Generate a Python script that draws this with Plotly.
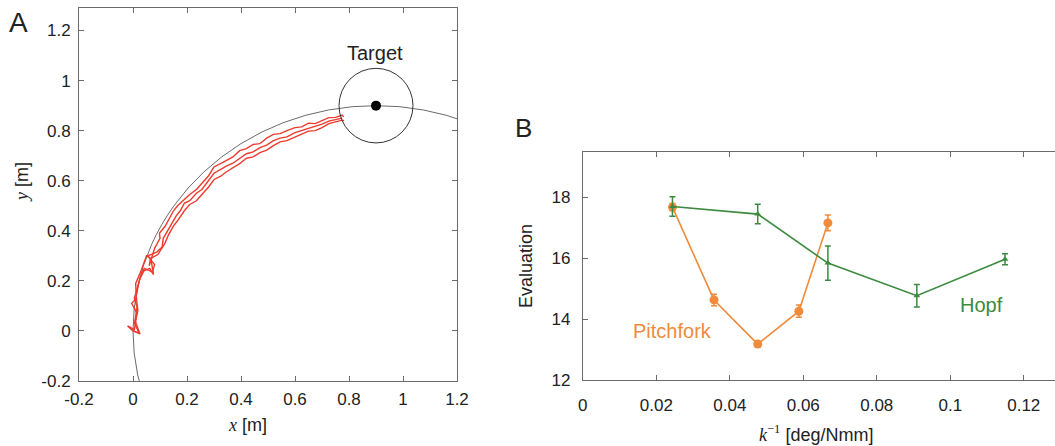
import plotly.graph_objects as go

# ---------------- Panel A data ----------------
traj1_x = [0.000, -0.020, 0.005, 0.015, -0.005, 0.012, 0.010, 0.022, 0.030, 0.050, 0.065, 0.060, 0.080, 0.100, 0.098, 0.120, 0.135, 0.150, 0.165,
           0.190, 0.210, 0.235, 0.255, 0.280, 0.300, 0.325, 0.345, 0.370, 0.395, 0.420, 0.445, 0.470, 0.495, 0.520, 0.545, 0.570, 0.600, 0.625, 0.650, 0.675, 0.700, 0.725, 0.750, 0.775, 0.780]
traj1_y = [0.000, 0.020, 0.005, 0.070, 0.110, 0.130, 0.190, 0.220, 0.240, 0.300, 0.290, 0.260, 0.330, 0.370, 0.390, 0.420, 0.450, 0.480, 0.500,
           0.525, 0.545, 0.565, 0.590, 0.620, 0.655, 0.668, 0.680, 0.695, 0.720, 0.728, 0.745, 0.748, 0.770, 0.785, 0.788, 0.800, 0.812, 0.815, 0.830, 0.828, 0.840, 0.852, 0.853, 0.862, 0.855]
traj2_x = [0.000, 0.022, 0.006, 0.015, 0.005, 0.018, 0.030, 0.042, 0.072, 0.080, 0.055, 0.088, 0.108, 0.112, 0.128, 0.145, 0.160, 0.175,
           0.190, 0.210, 0.235, 0.255, 0.280, 0.300, 0.325, 0.345, 0.370, 0.395, 0.420, 0.445, 0.470, 0.495, 0.520, 0.545, 0.570, 0.600, 0.625, 0.650, 0.675, 0.700, 0.725, 0.750, 0.775]
traj2_y = [0.000, -0.008, 0.030, 0.095, 0.130, 0.185, 0.225, 0.250, 0.235, 0.265, 0.300, 0.315, 0.335, 0.370, 0.400, 0.430, 0.460, 0.480,
           0.510, 0.520, 0.550, 0.565, 0.600, 0.630, 0.645, 0.658, 0.670, 0.690, 0.708, 0.715, 0.732, 0.742, 0.760, 0.770, 0.775, 0.792, 0.800, 0.810, 0.815, 0.826, 0.838, 0.845, 0.850]
traj3_x = [0.000, 0.026, 0.008, 0.018, 0.012, 0.024, 0.040, 0.062, 0.076, 0.066, 0.092, 0.108, 0.118, 0.132, 0.150, 0.165, 0.178,
           0.190, 0.210, 0.235, 0.255, 0.280, 0.300, 0.325, 0.345, 0.370, 0.395, 0.420, 0.445, 0.470, 0.495, 0.520, 0.545, 0.570, 0.600, 0.625, 0.650, 0.675, 0.700, 0.725, 0.750, 0.775, 0.782]
traj3_y = [0.000, -0.012, 0.040, 0.080, 0.140, 0.205, 0.240, 0.250, 0.225, 0.290, 0.305, 0.335, 0.350, 0.385, 0.420, 0.440, 0.460,
           0.480, 0.505, 0.520, 0.545, 0.575, 0.605, 0.618, 0.635, 0.650, 0.668, 0.690, 0.695, 0.712, 0.722, 0.740, 0.755, 0.760, 0.775, 0.785, 0.798, 0.800, 0.812, 0.828, 0.835, 0.842, 0.840]
target = (0.9, 0.9)
arc_center = (0.9, 0.0)
arc_radius = 0.9

a_ticks = [-0.2, 0, 0.2, 0.4, 0.6, 0.8, 1, 1.2]
a_ticktext = ["-0.2", "0", "0.2", "0.4", "0.6", "0.8", "1", "1.2"]

# ---------------- Panel B data ----------------
pitch_x = [0.0244, 0.0357, 0.0476, 0.0588, 0.0667]
pitch_y = [17.68, 14.63, 13.18, 14.26, 17.16]
pitch_err = [0.12, 0.19, 0.10, 0.20, 0.26]
hopf_x = [0.0244, 0.0476, 0.0667, 0.0909, 0.1149]
hopf_y = [17.70, 17.45, 15.84, 14.77, 15.97]
hopf_err = [0.32, 0.32, 0.56, 0.37, 0.18]

b_xticks = [0, 0.02, 0.04, 0.06, 0.08, 0.1, 0.12]
b_xticktext = ["0", "0.02", "0.04", "0.06", "0.08", "0.1", "0.12"]
b_yticks = [12, 14, 16, 18]

ORANGE = "#F08B3B"
GREEN = "#3C8A3F"
RED = "#EE3A2E"
AX = "#6b6b6b"
TXT = "#222222"
FONT = "Liberation Sans, Arial, sans-serif"

W, H = 1055, 446

fig = go.Figure()

for tx, ty in [(traj1_x, traj1_y), (traj2_x, traj2_y), (traj3_x, traj3_y)]:
    fig.add_trace(go.Scatter(x=tx, y=ty, mode="lines", line=dict(color=RED, width=1.4),
                             xaxis="x", yaxis="y", showlegend=False))

fig.add_trace(go.Scatter(x=[target[0]], y=[target[1]], mode="markers",
                         marker=dict(color="black", size=10), xaxis="x", yaxis="y", showlegend=False))

fig.add_trace(go.Scatter(x=pitch_x, y=pitch_y, mode="lines+markers",
                         line=dict(color=ORANGE, width=1.6),
                         marker=dict(color=ORANGE, size=9, symbol="circle"),
                         error_y=dict(type="data", array=pitch_err, color=ORANGE, thickness=1.5, width=3),
                         xaxis="x2", yaxis="y2", showlegend=False))
fig.add_trace(go.Scatter(x=hopf_x, y=hopf_y, mode="lines+markers",
                         line=dict(color=GREEN, width=1.6),
                         marker=dict(color=GREEN, size=6, symbol="triangle-up"),
                         error_y=dict(type="data", array=hopf_err, color=GREEN, thickness=1.5, width=3),
                         xaxis="x2", yaxis="y2", showlegend=False))

axis_common = dict(showline=True, linecolor=AX, linewidth=1, ticks="inside", ticklen=5,
                   tickcolor=AX, tickwidth=1, showgrid=False, zeroline=False, automargin=False,
                   tickfont=dict(family=FONT, size=17, color=TXT))

fig.update_layout(
    width=W, height=H, margin=dict(l=0, r=0, t=0, b=0, pad=0, autoexpand=False),
    paper_bgcolor="white", plot_bgcolor="white",
    xaxis=dict(domain=[79/W, 457/W], range=[-0.2, 1.2], tickvals=a_ticks, ticktext=a_ticktext,
               mirror="ticks", anchor="y", ticklabelstandoff=3, **axis_common),
    yaxis=dict(domain=[1-381/H, 1-8/H], range=[-0.2, 1.29], tickvals=a_ticks, ticktext=a_ticktext,
               mirror="ticks", anchor="x", ticklabelstandoff=4, **axis_common),
    xaxis2=dict(domain=[582.8/W, 1.0], range=[0, 0.1285], tickvals=b_xticks, ticktext=b_xticktext,
                mirror="ticks", anchor="y2", ticklabelstandoff=10, **axis_common),
    yaxis2=dict(domain=[1-380/H, 1-151.7/H], range=[12, 19.5], tickvals=b_yticks,
                mirror=False, anchor="x2", ticklabelstandoff=8, **axis_common),
)

# shapes: reference arc and target circle
fig.add_shape(type="circle", xref="x", yref="y",
              x0=arc_center[0]-arc_radius, x1=arc_center[0]+arc_radius,
              y0=arc_center[1]-arc_radius, y1=arc_center[1]+arc_radius,
              line=dict(color="#444444", width=0.8), layer="below")
fig.add_shape(type="circle", xref="x", yref="y",
              x0=target[0]-0.137, x1=target[0]+0.137, y0=target[1]-0.149, y1=target[1]+0.149,
              line=dict(color="#333333", width=1), layer="above")

ann = [
    dict(text="A", x=18/W, y=1-22/H, size=28),
    dict(text="B", x=523/W, y=1-128/H, size=26),
    dict(text="<span style='font-family:Liberation Serif;font-style:italic'>x</span> [m]",
         x=247/W, y=1-425/H, size=18),
    dict(text="<span style='font-family:Liberation Serif;font-style:italic'>y</span> [m]",
         x=22/W, y=1-182/H, size=18, angle=-90),
    dict(text="Evaluation", x=526/W, y=1-266/H, size=18, angle=-90),
    dict(text="<span style='font-family:Liberation Serif;font-style:italic'>k</span>"
              "<sup><span style='font-family:Liberation Serif'>−1</span></sup> [deg/Nmm]",
         x=816/W, y=1-433/H, size=18),
]
for a in ann:
    fig.add_annotation(text=a["text"], x=a["x"], y=a["y"], xref="paper", yref="paper",
                       showarrow=False, xanchor="center", yanchor="middle",
                       textangle=a.get("angle", 0),
                       font=dict(family=FONT, size=a["size"], color=TXT))

fig.add_annotation(text="Target", x=0.895, y=1.111, xref="x", yref="y", showarrow=False,
                   font=dict(family=FONT, size=20, color=TXT))
fig.add_annotation(text="Pitchfork", x=0.0243, y=13.62, xref="x2", yref="y2", showarrow=False,
                   font=dict(family=FONT, size=20, color=ORANGE))
fig.add_annotation(text="Hopf", x=0.1085, y=14.48, xref="x2", yref="y2", showarrow=False,
                   font=dict(family=FONT, size=20, color=GREEN))

fig.write_html("out.html", config={"displayModeBar": False},
               post_script="document.body.style.margin='0';document.body.style.overflow='hidden';")
